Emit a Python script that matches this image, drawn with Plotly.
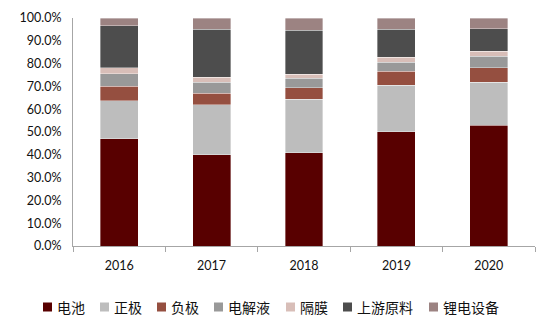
import plotly.graph_objects as go

years = ["2016", "2017", "2018", "2019", "2020"]

battery = [47.0, 40.0, 41.0, 50.2, 52.9]
cathode = [16.8, 21.9, 23.4, 20.4, 19.0]
anode = [6.2, 5.2, 5.1, 6.1, 6.3]
electrolyte = [5.5, 4.8, 4.0, 4.0, 5.0]
separator = [2.7, 2.2, 1.8, 2.0, 2.3]
upstream = [18.3, 20.9, 19.3, 12.3, 9.8]
equipment = [3.5, 5.0, 5.4, 5.0, 4.7]

names = ["电池", "正极", "负极", "电解液", "隔膜", "上游原料", "锂电设备"]
values = [battery, cathode, anode, electrolyte, separator, upstream, equipment]
colors = ["#580000", "#BDBDBD", "#954F40", "#999999", "#D8BEB8", "#4D4D4D", "#9C8382"]

W, H = 550, 323
L, R, T, B = 73, 15, 18, 77
PW, PH = W - L - R, H - T - B

fig = go.Figure()
for name, vals, color in zip(names, values, colors):
    fig.add_trace(go.Bar(
        x=years, y=vals, name=name, showlegend=False,
        marker=dict(color=color, line=dict(color="rgba(255,255,255,0.6)", width=0.6)),
    ))

# legend row below the axis: a colour square followed by the series name
def px_x(p):
    return (p - L) / PW

def px_y(p):
    return (H - B - p) / PH

legend_left = [43, 100, 157, 214, 286, 343, 429]
legend_mid = 307
sq = 9
for name, color, x0 in zip(names, colors, legend_left):
    fig.add_shape(
        type="rect", xref="paper", yref="paper",
        x0=px_x(x0), x1=px_x(x0 + sq),
        y0=px_y(legend_mid + sq / 2), y1=px_y(legend_mid - sq / 2),
        fillcolor=color, line=dict(width=0),
    )
    fig.add_annotation(
        text=name, xref="paper", yref="paper",
        x=px_x(x0 + sq + 3), y=px_y(legend_mid),
        xanchor="left", yanchor="middle", showarrow=False,
        font=dict(family="Noto Sans CJK SC", size=14, color="#111"),
    )

fig.update_layout(
    barmode="stack",
    bargap=0.59,
    width=W, height=H,
    margin=dict(l=L, r=R, t=T, b=B, autoexpand=False),
    paper_bgcolor="white", plot_bgcolor="white",
    font=dict(family="Lato, Noto Sans CJK SC", size=12, color="#222"),
    xaxis=dict(
        showline=True, linecolor="#A6A6A6", linewidth=1,
        ticks="outside", ticklen=5, tickcolor="#A6A6A6",
        tickson="boundaries", ticklabelstandoff=8,
        tickfont=dict(family="Lato", size=12.5, color="#111"),
    ),
    yaxis=dict(
        range=[0, 100], dtick=10, ticksuffix="%", tickformat=".1f",
        showline=True, linecolor="#A6A6A6", linewidth=1,
        showgrid=False, zeroline=False, ticklabelstandoff=8,
        tickfont=dict(family="Lato", size=12.5, color="#111"),
    ),
)

fig.write_html("out.html")
